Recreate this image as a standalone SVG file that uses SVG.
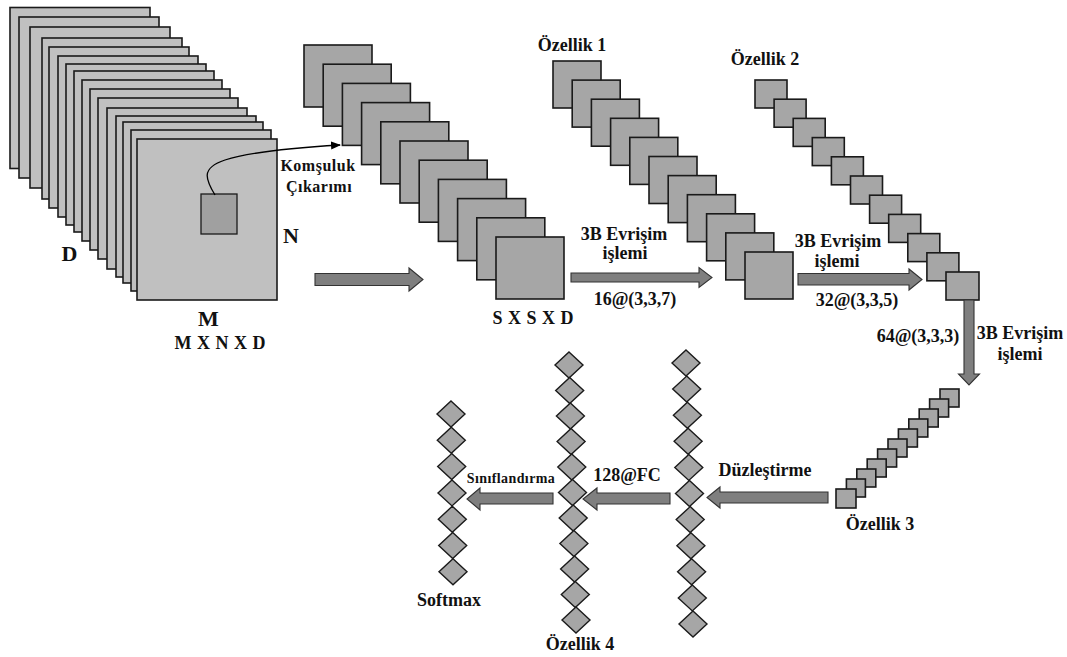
<svg xmlns="http://www.w3.org/2000/svg" width="1067" height="657" viewBox="0 0 1067 657">
<style>
.bg{fill:#ffffff}
.big{fill:#c0c0c0;stroke:#1a1a1a;stroke-width:1.6}
.sq{fill:#a6a6a6;stroke:#1a1a1a;stroke-width:1.6}
.dm{fill:#a6a6a6;stroke:#1a1a1a;stroke-width:1.4}
.ar{fill:#7f7f7f;stroke:#333333;stroke-width:1.1}
.t{font-family:"Liberation Serif","Times New Roman",serif;font-weight:bold;fill:#111111;text-anchor:middle}
.l17{font-size:18px}
.l16{font-size:18px}
.l20{font-size:22px}
.l15{font-size:16px;letter-spacing:0.5px}
.l13{font-size:14px;letter-spacing:0.4px}
</style>
<defs>
<marker id="ah" markerWidth="10" markerHeight="8" refX="9" refY="4" orient="auto" markerUnits="userSpaceOnUse">
<path d="M0,0 L10,4 L0,8 Z" fill="#000"/>
</marker>
<polygon id="dia" points="0,-13 14,0 0,13 -14,0" class="dm"/>
</defs>
<rect class="bg" x="0" y="0" width="1067" height="657"/>

<g id="input-cube">
<rect class="big" x="10" y="7.5" width="140" height="161"/>
<rect class="big" x="19" y="17" width="140" height="161"/>
<rect class="big" x="30" y="27" width="140" height="161"/>
<rect class="big" x="42" y="38" width="140" height="161"/>
<rect class="big" x="49" y="47" width="140" height="161"/>
<rect class="big" x="58" y="56" width="140" height="161"/>
<rect class="big" x="66" y="64" width="140" height="161"/>
<rect class="big" x="74" y="71" width="140" height="161"/>
<rect class="big" x="82" y="80" width="140" height="161"/>
<rect class="big" x="90" y="89" width="140" height="161"/>
<rect class="big" x="98" y="98" width="140" height="161"/>
<rect class="big" x="107" y="108" width="140" height="161"/>
<rect class="big" x="116" y="116" width="140" height="161"/>
<rect class="big" x="123" y="122" width="140" height="161"/>
<rect class="big" x="131" y="130" width="140" height="161"/>
<rect class="big" x="137" y="139" width="140" height="161"/>
<rect x="201" y="194" width="36" height="40" fill="#a0a0a0" stroke="#1a1a1a" stroke-width="1.3"/>
<text class="t l20" x="69.5" y="261">D</text>
<text class="t l20" x="291" y="243">N</text>
<text class="t l20" x="208.5" y="326">M</text>
<text class="t l16" x="220" y="349" word-spacing="1">M X N X D</text>
</g>

<g id="patch-stack">
<rect class="sq" x="304" y="45" width="68" height="62"/>
<rect class="sq" x="323.2" y="64.2" width="68" height="62"/>
<rect class="sq" x="342.4" y="83.4" width="68" height="62"/>
<rect class="sq" x="361.6" y="102.6" width="68" height="62"/>
<rect class="sq" x="380.8" y="121.8" width="68" height="62"/>
<rect class="sq" x="400" y="141" width="68" height="62"/>
<rect class="sq" x="419.2" y="160.2" width="68" height="62"/>
<rect class="sq" x="438.4" y="179.4" width="68" height="62"/>
<rect class="sq" x="457.6" y="198.6" width="68" height="62"/>
<rect class="sq" x="476.8" y="217.8" width="68" height="62"/>
<rect class="sq" x="496" y="237" width="68" height="62"/>
<text class="t l16" x="533" y="324" word-spacing="1">S X S X D</text>
</g>

<g id="ozellik1">
<text class="t l17" x="572" y="51">Özellik 1</text>
<rect class="sq" x="553" y="61" width="48" height="47"/>
<rect class="sq" x="572.2" y="80.1" width="48" height="47"/>
<rect class="sq" x="591.4" y="99.2" width="48" height="47"/>
<rect class="sq" x="610.6" y="118.3" width="48" height="47"/>
<rect class="sq" x="629.8" y="137.4" width="48" height="47"/>
<rect class="sq" x="649" y="156.5" width="48" height="47"/>
<rect class="sq" x="668.2" y="175.6" width="48" height="47"/>
<rect class="sq" x="687.4" y="194.7" width="48" height="47"/>
<rect class="sq" x="706.6" y="213.8" width="48" height="47"/>
<rect class="sq" x="725.8" y="232.9" width="48" height="47"/>
<rect class="sq" x="745" y="252" width="48" height="47"/>
</g>

<g id="ozellik2">
<text class="t l17" x="765" y="65">Özellik 2</text>
<rect class="sq" x="755" y="80" width="32" height="28"/>
<rect class="sq" x="774.1" y="99.2" width="32" height="28"/>
<rect class="sq" x="793.2" y="118.4" width="32" height="28"/>
<rect class="sq" x="812.3" y="137.6" width="32" height="28"/>
<rect class="sq" x="831.4" y="156.8" width="32" height="28"/>
<rect class="sq" x="850.5" y="176" width="32" height="28"/>
<rect class="sq" x="869.6" y="195.2" width="32" height="28"/>
<rect class="sq" x="888.7" y="214.4" width="32" height="28"/>
<rect class="sq" x="907.8" y="233.6" width="32" height="28"/>
<rect class="sq" x="926.9" y="252.8" width="32" height="28"/>
<rect class="sq" x="946" y="272" width="33" height="28"/>
</g>

<g id="ozellik3">
<rect class="sq" x="940" y="389" width="19" height="18"/>
<rect class="sq" x="929.6" y="399" width="19" height="18"/>
<rect class="sq" x="919.2" y="409" width="19" height="18"/>
<rect class="sq" x="908.8" y="419" width="19" height="18"/>
<rect class="sq" x="898.4" y="429" width="19" height="18"/>
<rect class="sq" x="888" y="439" width="19" height="18"/>
<rect class="sq" x="877.6" y="449" width="19" height="18"/>
<rect class="sq" x="867.2" y="459" width="19" height="18"/>
<rect class="sq" x="856.8" y="469" width="19" height="18"/>
<rect class="sq" x="846.4" y="479" width="19" height="18"/>
<rect class="sq" x="836" y="489" width="20" height="19"/>
<text class="t l17" x="880" y="530">Özellik 3</text>
</g>

<g id="flatten-layer">
<use href="#dia" x="686" y="363"/>
<use href="#dia" x="686.7" y="389.1"/>
<use href="#dia" x="687.4" y="415.2"/>
<use href="#dia" x="688.1" y="441.3"/>
<use href="#dia" x="688.8" y="467.4"/>
<use href="#dia" x="689.5" y="493.5"/>
<use href="#dia" x="690.2" y="519.6"/>
<use href="#dia" x="690.9" y="545.7"/>
<use href="#dia" x="691.6" y="571.8"/>
<use href="#dia" x="692.3" y="597.9"/>
<use href="#dia" x="693" y="624"/>
</g>

<g id="ozellik4">
<use href="#dia" x="569" y="365"/>
<use href="#dia" x="569.7" y="390.5"/>
<use href="#dia" x="570.4" y="416"/>
<use href="#dia" x="571.1" y="441.5"/>
<use href="#dia" x="571.8" y="467"/>
<use href="#dia" x="572.5" y="492.5"/>
<use href="#dia" x="573.2" y="518"/>
<use href="#dia" x="573.9" y="543.5"/>
<use href="#dia" x="574.6" y="569"/>
<use href="#dia" x="575.3" y="594.5"/>
<use href="#dia" x="576" y="620"/>
<text class="t l17" x="580" y="650">Özellik 4</text>
</g>

<g id="softmax">
<use href="#dia" x="451" y="414"/>
<use href="#dia" x="451.3" y="440.3"/>
<use href="#dia" x="451.7" y="466.6"/>
<use href="#dia" x="452" y="492.9"/>
<use href="#dia" x="452.3" y="519.2"/>
<use href="#dia" x="452.7" y="545.5"/>
<use href="#dia" x="453" y="571.8"/>
<text class="t l17" x="449" y="606">Softmax</text>
</g>

<g id="connectors">
<path d="M215,195 C206,180 200,168 225,160 C250,152 290,148 340,145" fill="none" stroke="#000" stroke-width="1.3" marker-end="url(#ah)"/>
<polygon class="ar" points="315,273.5 409,273.5 409,268 423,279.5 409,291 409,285.5 315,285.5"/>
<polygon class="ar" points="571,273 699,273 699,267.5 712,277.5 699,287.5 699,282 571,282"/>
<polygon class="ar" points="798,273.5 909,273.5 909,269 922,279.5 909,290 909,285 798,285"/>
<polygon class="ar" points="964,300 974,300 974,374 979.5,374 969,385 958.5,374 964,374"/>
<polygon class="ar" points="828,492 720,492 720,487 707,497.5 720,508 720,503 828,503"/>
<polygon class="ar" points="670,493 597,493 597,488 583,499 597,510 597,504 670,504"/>
<polygon class="ar" points="553,493 480,493 480,488 467,499 480,510 480,504 553,504"/>
</g>

<g id="labels">
<text class="t l15" x="318" y="171">Komşuluk</text>
<text class="t l15" x="319" y="192">Çıkarımı</text>
<text class="t l17" x="624" y="240">3B Evrişim</text>
<text class="t l17" x="625" y="259">işlemi</text>
<text class="t l17" x="635" y="305">16@(3,3,7)</text>
<text class="t l17" x="838" y="247">3B Evrişim</text>
<text class="t l17" x="837" y="267">işlemi</text>
<text class="t l17" x="857" y="306">32@(3,3,5)</text>
<text class="t l17" x="918" y="342">64@(3,3,3)</text>
<text class="t l17" x="1020" y="339">3B Evrişim</text>
<text class="t l17" x="1020" y="360">işlemi</text>
<text class="t l17" x="765" y="476">Düzleştirme</text>
<text class="t l17" x="627" y="481">128@FC</text>
<text class="t l13" x="511" y="483">Sınıflandırma</text>
</g>
</svg>
